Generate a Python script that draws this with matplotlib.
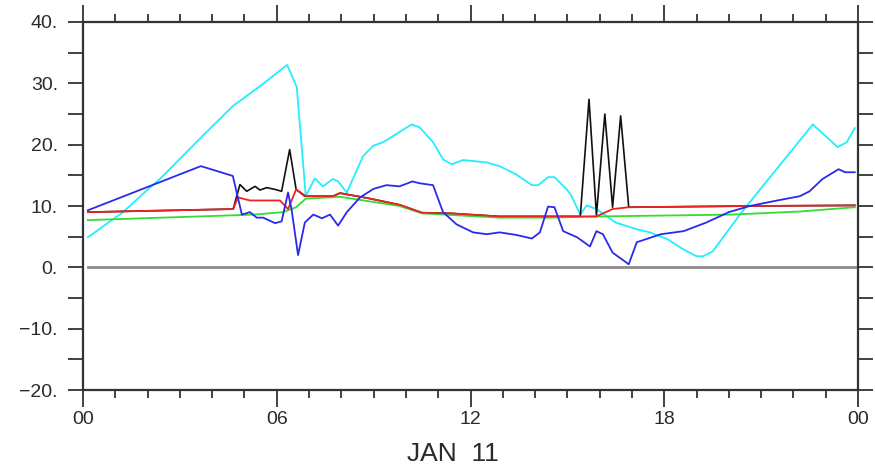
import numpy as np
import matplotlib
matplotlib.use("Agg")
import matplotlib.pyplot as plt
from matplotlib import font_manager
from matplotlib.ticker import MultipleLocator

# hours since 00Z, JAN 11
cyan_t = [0.15, 1.24, 2.07, 2.38, 3.7, 4.64, 5.5, 6.32, 6.62, 6.9, 7.18, 7.43, 7.74, 7.9, 8.17,
          8.67, 8.98, 9.29, 9.6, 10.18, 10.43, 10.84, 11.15, 11.42, 11.77, 12.5, 12.9, 13.4,
          13.9, 14.1, 14.4, 14.6, 14.98, 15.1, 15.4, 15.6, 15.9, 16.5, 17.15, 17.55, 18.1,
          18.6, 19.0, 19.2, 19.5, 20.4, 22.6, 23.37, 23.65, 23.9]
cyan_v = [4.9, 9.0, 13.0, 14.4, 21.4, 26.3, 29.6, 33.0, 29.4, 11.6, 14.5, 13.2, 14.4, 14.0, 12.2,
          18.1, 19.8, 20.4, 21.4, 23.3, 22.8, 20.4, 17.6, 16.8, 17.5, 17.1, 16.5, 15.2,
          13.4, 13.4, 14.7, 14.7, 12.7, 11.9, 8.6, 10.1, 9.5, 7.3, 6.2, 5.7, 4.6,
          2.9, 1.8, 1.8, 2.6, 9.0, 23.3, 19.6, 20.4, 22.7]

blue_t = [0.15, 3.65, 4.64, 4.92, 5.17, 5.38, 5.58, 5.95, 6.15, 6.35, 6.46, 6.66, 6.87, 7.13,
          7.4, 7.65, 7.9, 8.17, 8.58, 9.0, 9.4, 9.8, 10.2, 10.43, 10.84, 11.15, 11.57, 12.08,
          12.5, 12.9, 13.4, 13.9, 14.15, 14.4, 14.6, 14.87, 15.3, 15.7, 15.9, 16.1, 16.4,
          16.9, 17.15, 17.9, 18.6, 19.3, 20.0, 20.65, 21.4, 22.2, 22.5, 22.9, 23.4, 23.6, 23.9]
blue_v = [9.3, 16.5, 14.9, 8.6, 9.0, 8.1, 8.1, 7.2, 7.5, 12.2, 9.4, 2.0, 7.3, 8.6,
          8.0, 8.6, 6.8, 9.0, 11.4, 12.8, 13.4, 13.2, 14.0, 13.7, 13.4, 9.0, 7.0, 5.7,
          5.4, 5.7, 5.3, 4.7, 5.7, 9.9, 9.8, 5.9, 4.9, 3.4, 5.9, 5.4, 2.4,
          0.5, 4.1, 5.4, 5.9, 7.3, 9.0, 10.0, 10.8, 11.6, 12.4, 14.4, 16.0, 15.5, 15.5]

black_t = [0.15, 4.65, 4.86, 5.07, 5.33, 5.48, 5.69, 5.95, 6.15, 6.4, 6.6, 6.87, 7.74, 7.96,
           8.27, 8.8, 9.8, 10.5, 11.4, 12.9, 15.4, 15.67, 15.9, 16.16, 16.4, 16.65, 16.9,
           20.65, 23.9]
black_v = [9.0, 9.5, 13.5, 12.4, 13.2, 12.6, 13.0, 12.7, 12.4, 19.2, 12.7, 11.6, 11.6, 12.1,
           11.8, 11.3, 10.2, 8.9, 8.8, 8.3, 8.3, 27.4, 8.5, 25.0, 9.8, 24.7, 9.8,
           10.0, 10.1]

red_t = [0.15, 4.65, 4.8, 5.17, 6.1, 6.35, 6.6, 6.9, 7.74, 7.96, 8.27, 8.8, 9.8, 10.5, 11.4,
         12.9, 15.4, 15.9, 16.4, 16.9, 20.65, 23.9]
red_v = [9.0, 9.5, 11.4, 10.9, 10.9, 9.5, 12.7, 11.6, 11.6, 12.1, 11.8, 11.3, 10.2, 8.9, 8.8,
         8.3, 8.3, 8.3, 9.5, 9.8, 10.0, 10.1]

green_t = [0.15, 3.6, 5.3, 6.2, 6.6, 6.9, 7.96, 9.8, 10.5, 12.9, 14.46, 16.0, 20.1, 22.2, 23.9]
green_v = [7.7, 8.3, 8.6, 9.0, 9.8, 11.2, 11.5, 10.0, 8.8, 8.1, 8.1, 8.3, 8.6, 9.1, 9.8]

x_major = [0, 6, 12, 18, 24]
x_labels = ["00", "06", "12", "18", "00"]
y_major = [-20, -10, 0, 10, 20, 30, 40]
y_labels = ["\u221220.", "\u221210.", "0.", "10.", "20.", "30.", "40."]

plt.rcParams['font.family'] = ['Liberation Sans', 'DejaVu Sans']
axcol = '#333333'
txtcol = '#2a2a2a'

fig = plt.figure(figsize=(8.75, 4.73), dpi=100)
ax = fig.add_axes([83/875, 1 - 390/473, (858 - 83)/875, (390 - 22)/473])

ax.plot([0.15, 23.9], [0, 0], color='#8c8c8c', lw=2.0)
ax.plot(cyan_t, cyan_v, color='#22eeff', lw=1.3)
ax.plot(black_t, black_v, color='#111111', lw=1.2)
ax.plot(green_t, green_v, color='#33dd33', lw=1.3)
ax.plot(red_t, red_v, color='#ee2222', lw=1.3)
ax.plot(blue_t, blue_v, color='#2a2aee', lw=1.3)

ax.set_xlim(0, 24)
ax.set_ylim(-20, 40)
ax.set_xticks(x_major)
ax.set_xticklabels(x_labels)
ax.xaxis.set_minor_locator(MultipleLocator(1))
ax.set_yticks(y_major)
ax.set_yticklabels(y_labels)
ax.yaxis.set_minor_locator(MultipleLocator(5))

ax.tick_params(axis='x', which='major', direction='out', length=12, width=1.3,
               color=axcol, top=True, labelsize=14, pad=3, labelcolor=txtcol)
ax.tick_params(axis='x', which='minor', direction='out', length=6, width=1.3,
               color=axcol, top=True)
ax.tick_params(axis='y', which='both', direction='out', length=11, width=1.3,
               color=axcol, right=True, labelsize=14, pad=7, labelcolor=txtcol)

for s in ax.spines.values():
    s.set_color(axcol)
    s.set_linewidth(1.6)

# the date label uses a narrow face if there is one
names = {f.name for f in font_manager.fontManager.ttflist}
if 'Liberation Sans Narrow' in names:
    date_font, date_size = 'Liberation Sans Narrow', 23
else:
    date_font, date_size = 'Liberation Sans', 19
fig.text(453/875, 1 - 454/473, "JAN  11", ha='center', va='center', fontsize=date_size,
         family=date_font, color=txtcol)

fig.savefig("out.png", dpi=100)
